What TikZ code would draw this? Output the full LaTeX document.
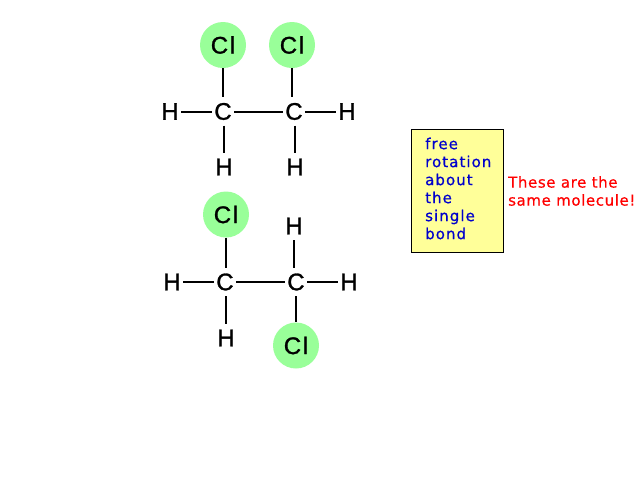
\documentclass[tikz,border=0pt]{standalone}
\usepackage{fontspec}
\setmainfont{Liberation Sans}
\newfontfamily\notefont[LetterSpace=7,FakeBold=0.6]{DejaVu Sans}
\newfontfamily\samefont[LetterSpace=4,FakeBold=0.6]{DejaVu Sans}
\newfontfamily\atomfont[FakeBold=1.2]{Liberation Sans}
\newfontfamily\clfont[LetterSpace=7,FakeBold=1.2]{Liberation Sans}
\usetikzlibrary{positioning}
\definecolor{clgreen}{HTML}{99FF99}
\definecolor{noteyellow}{HTML}{FFFF99}
\definecolor{noteblue}{HTML}{0000CC}
\tikzset{
    atom/.style={
      rectangle,
           on grid,
           inner sep=0pt,
           minimum width=22pt,
           minimum height=28pt,
           font=\fontsize{24}{24}\atomfont,
           },
}
\tikzset{
    chlorine/.style={
      circle,
           on grid,
           fill=clgreen,
           inner sep=0pt,
           minimum size=46pt,
           font=\fontsize{24}{24}\clfont,
           },
}
\tikzset{
    bond/.style={
      draw=black,
           line width=2pt,
           },
}
\tikzset{
    notebox/.style={
      rectangle,
           draw=black,
           line width=1pt,
           fill=noteyellow,
           inner sep=0pt,
           minimum width=92pt,
           minimum height=123pt,
           },
}
\tikzset{
    notetext/.style={
      inner sep=0pt,
           align=left,
           font=\fontsize{15}{18}\notefont,
           },
}

\begin{document}
\begin{tikzpicture}[x=1pt,y=-1pt]

\useasboundingbox (0,0) rectangle (640,480);

% top molecule
\node[atom](ca) at (223,111.5){C};
\node[atom,right = 71pt of ca](cb){C};
\node[chlorine,above = 66.5pt of ca](cla){Cl};
\node[chlorine,above left = 66.5pt and 2pt of cb](clb){Cl};
\node[atom,left = 53pt of ca](hal){H};
\node[atom,below right = 55.5pt and 1pt of ca](hab){H};
\node[atom,right = 53pt of cb](hbr){H};
\node[atom,below right = 55.5pt and 1pt of cb](hbb){H};

\path (ca) edge[bond](cb);
\path (cla) edge[bond](ca);
\path (clb) edge[bond](clb |- cb.north);
\path (ca) edge[bond](hal);
\path (ca.south -| hab) edge[bond](hab);
\path (cb) edge[bond](hbr);
\path (cb.south -| hbb) edge[bond](hbb);

% bottom molecule
\node[atom](cc) at (225,282){C};
\node[atom,right = 71pt of cc](cd){C};
\node[chlorine,above right = 67.5pt and 1pt of cc](clc){Cl};
\node[chlorine,below = 63.5pt of cd](cld){Cl};
\node[atom,left = 53pt of cc](hcl){H};
\node[atom,below right = 56pt and 1pt of cc](hcb){H};
\node[atom,right = 53pt of cd](hdr){H};
\node[atom,above left = 56pt and 2pt of cd](hdt){H};

\path (cc) edge[bond](cd);
\path (clc) edge[bond](clc |- cc.north);
\path (cd) edge[bond](cld);
\path (cc) edge[bond](hcl);
\path (cc.south -| hcb) edge[bond](hcb);
\path (cd) edge[bond](hdr);
\path (cd.north -| hdt) edge[bond](hdt);

% note
\node[notebox](note) at (457,190.5){};
\node[notetext,text=noteblue,anchor=west,right = 14.5pt of note.west,yshift=2pt](notebody){free\\rotation\\about\\the\\single\\bond};
\node[notetext,font=\fontsize{15}{18}\samefont,text=red,anchor=west](same) at (508,191){These are the\\same molecule!};

\end{tikzpicture}
\end{document}
